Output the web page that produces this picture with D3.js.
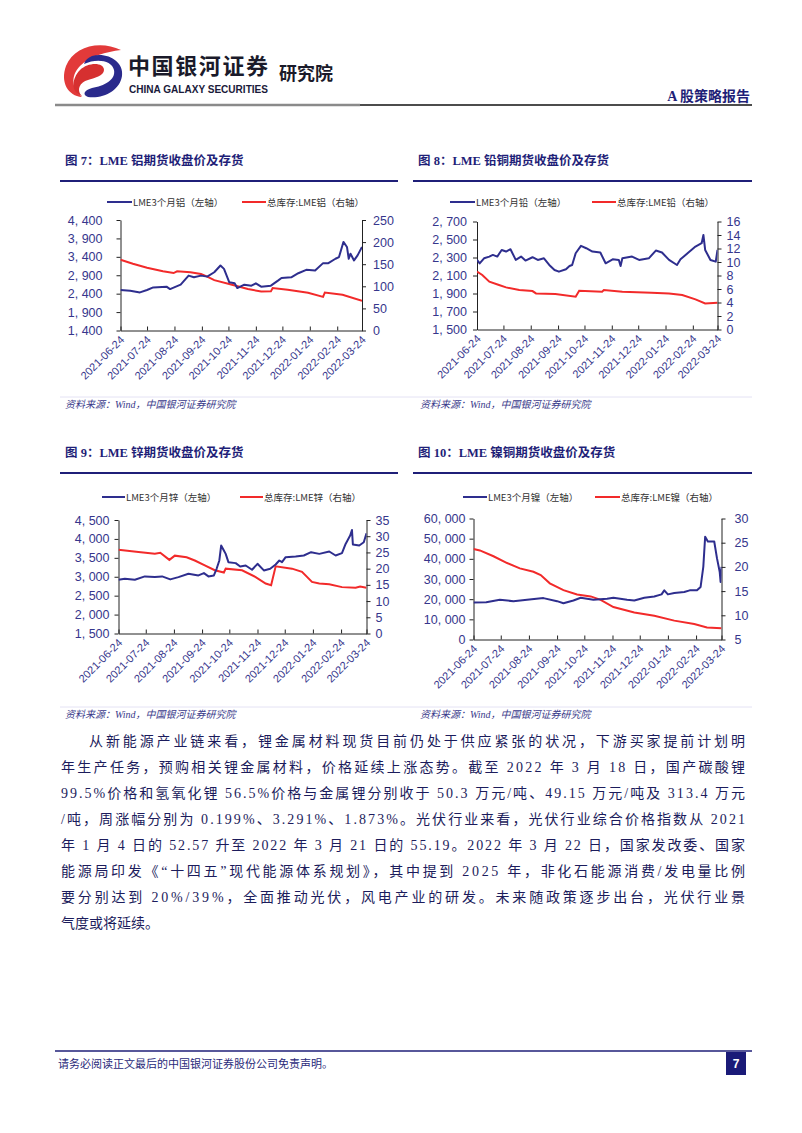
<!DOCTYPE html>
<html><head><meta charset="utf-8">
<script src="https://cdn.jsdelivr.net/npm/d3@7"></script>
<style>
html,body{margin:0;padding:0;background:#fff;}
svg{display:block;}
</style></head>
<body>
<svg id="page" width="802" height="1133"></svg>
<script>
// ---------------- DATA ----------------
const monthTicks = ["2021-06-24","2021-07-24","2021-08-24","2021-09-24","2021-10-24","2021-11-24","2021-12-24","2022-01-24","2022-02-24","2022-03-24"];

const alPrice = [["2021-06-24",2498],["2021-07-05",2480],["2021-07-16",2434],["2021-07-24",2500],["2021-07-31",2570],["2021-08-15",2590],["2021-08-19",2525],["2021-08-31",2644],["2021-09-09",2890],["2021-09-15",2845],["2021-09-23",2890],["2021-09-30",2863],["2021-10-08",2982],["2021-10-15",3165],["2021-10-19",3073],["2021-10-25",2708],["2021-10-31",2680],["2021-11-03",2552],["2021-11-11",2644],["2021-11-19",2617],["2021-11-24",2680],["2021-11-30",2590],["2021-12-11",2617],["2021-12-19",2754],["2021-12-23",2827],["2022-01-03",2845],["2022-01-11",2955],["2022-01-20",3046],["2022-01-30",3028],["2022-02-08",3229],["2022-02-14",3229],["2022-02-22",3348],["2022-02-26",3394],["2022-03-03",3805],["2022-03-07",3668],["2022-03-09",3348],["2022-03-11",3485],["2022-03-15",3302],["2022-03-19",3440],["2022-03-24",3668]];
const alStock = [["2021-06-24",160],["2021-07-08",151],["2021-07-24",142],["2021-08-11",134],["2021-08-23",130],["2021-08-27",134],["2021-09-11",132],["2021-09-23",128],["2021-09-30",122],["2021-10-08",114],["2021-10-27",104],["2021-11-15",94],["2021-11-30",88],["2021-12-11",88.5],["2021-12-13",96],["2021-12-30",92],["2022-01-22",85.5],["2022-02-08",76],["2022-02-10",86],["2022-03-02",81],["2022-03-24",67]];

const pbPrice = [["2021-06-24",2273],["2021-06-27",2235],["2021-07-02",2291],["2021-07-08",2310],["2021-07-12",2329],["2021-07-17",2310],["2021-07-22",2384],["2021-07-27",2366],["2021-08-01",2392],["2021-08-07",2273],["2021-08-13",2310],["2021-08-18",2266],["2021-08-26",2303],["2021-09-01",2273],["2021-09-08",2291],["2021-09-14",2217],["2021-09-20",2161],["2021-09-25",2143],["2021-10-03",2170],["2021-10-07",2206],["2021-10-10",2217],["2021-10-14",2347],["2021-10-20",2429],["2021-10-26",2403],["2021-11-02",2366],["2021-11-11",2355],["2021-11-17",2236],["2021-11-25",2280],["2021-12-02",2273],["2021-12-04",2206],["2021-12-06",2291],["2021-12-17",2310],["2021-12-25",2273],["2022-01-05",2291],["2022-01-13",2377],["2022-01-20",2355],["2022-01-28",2273],["2022-02-06",2217],["2022-02-10",2280],["2022-02-19",2355],["2022-02-27",2421],["2022-03-06",2459],["2022-03-08",2551],["2022-03-10",2384],["2022-03-16",2273],["2022-03-22",2254],["2022-03-24",2384]];
const pbStock = [["2021-06-24",8.57],["2021-06-30",8.07],["2021-07-08",7.08],["2021-07-19",6.59],["2021-07-27",6.24],["2021-08-11",5.84],["2021-08-26",5.69],["2021-08-30",5.35],["2021-09-21",5.25],["2021-10-14",4.85],["2021-10-18",5.74],["2021-11-13",5.59],["2021-11-15",5.84],["2021-12-06",5.59],["2022-01-08",5.44],["2022-01-28",5.35],["2022-02-12",5.1],["2022-02-27",4.46],["2022-03-10",3.86],["2022-03-24",3.96]];

const znPrice = [["2021-06-24",2921],["2021-07-01",2947],["2021-07-12",2921],["2021-07-23",3009],["2021-08-03",2991],["2021-08-11",3009],["2021-08-20",2930],["2021-08-29",2991],["2021-09-09",3079],["2021-09-20",3035],["2021-09-26",3097],["2021-10-01",3009],["2021-10-07",3035],["2021-10-10",3211],["2021-10-13",3430],["2021-10-15",3825],["2021-10-18",3693],["2021-10-20",3605],["2021-10-23",3386],["2021-10-31",3360],["2021-11-05",3272],["2021-11-11",3298],["2021-11-18",3184],["2021-11-24",3342],["2021-12-01",3167],["2021-12-08",3211],["2021-12-14",3325],["2021-12-18",3430],["2021-12-21",3386],["2021-12-25",3518],["2022-01-05",3535],["2022-01-14",3562],["2022-01-22",3649],["2022-01-31",3605],["2022-02-11",3667],["2022-02-18",3562],["2022-02-25",3623],["2022-03-01",3868],["2022-03-06",4088],["2022-03-08",4237],["2022-03-09",3851],["2022-03-16",3825],["2022-03-21",3912],["2022-03-24",4149]];
const znStock = [["2021-06-24",25.8],["2021-07-16",25.1],["2021-08-03",24.6],["2021-08-09",24.9],["2021-08-19",22.7],["2021-08-25",24.0],["2021-09-07",23.5],["2021-09-16",22.5],["2021-09-27",21.0],["2021-10-08",19.5],["2021-10-18",18.8],["2021-10-20",20.0],["2021-11-07",19.5],["2021-11-22",17.4],["2021-12-03",15.4],["2021-12-09",14.9],["2021-12-14",20.7],["2022-01-01",20.0],["2022-01-12",19.0],["2022-01-23",15.9],["2022-01-31",15.4],["2022-02-11",15.2],["2022-02-25",14.3],["2022-03-12",14.1],["2022-03-17",14.5],["2022-03-24",14.1]];

const niPrice = [["2021-06-24",18330],["2021-07-08",18500],["2021-07-23",19680],["2021-08-07",19010],["2021-08-22",19680],["2021-09-09",20520],["2021-09-24",19010],["2021-10-01",18000],["2021-10-12",19350],["2021-10-20",20690],["2021-11-03",19680],["2021-11-18",20180],["2021-11-25",20690],["2021-12-10",19680],["2021-12-18",19350],["2021-12-29",20690],["2022-01-09",21360],["2022-01-17",22370],["2022-01-20",24380],["2022-01-24",22370],["2022-01-31",23040],["2022-02-11",23550],["2022-02-17",24380],["2022-02-25",24380],["2022-03-01",26060],["2022-03-04",36140],["2022-03-06",50930],["2022-03-09",48580],["2022-03-16",48580],["2022-03-19",40340],["2022-03-22",33620],["2022-03-23",28500],["2022-03-24",36000]];
const niStock = [["2021-06-24",23.7],["2021-07-01",23.4],["2021-07-16",22.2],["2021-07-31",20.8],["2021-08-14",19.7],["2021-08-29",19.0],["2021-09-06",18.3],["2021-09-16",16.6],["2021-10-01",15.2],["2021-10-16",14.3],["2021-10-31",13.9],["2021-11-11",13.2],["2021-11-25",11.7],["2021-12-18",10.6],["2022-01-09",9.9],["2022-01-31",8.9],["2022-02-22",8.2],["2022-03-08",7.5],["2022-03-24",7.3]];

const alLeftTicks = [1400,1900,2400,2900,3400,3900,4400];
const alRightTicks = [0,50,100,150,200,250];
const pbLeftTicks = [1500,1700,1900,2100,2300,2500,2700];
const pbRightTicks = [0,2,4,6,8,10,12,14,16];
const znLeftTicks = [1500,2000,2500,3000,3500,4000,4500];
const znRightTicks = [0,5,10,15,20,25,30,35];
const niLeftTicks = [0,10000,20000,30000,40000,50000,60000];
const niRightTicks = [5,10,15,20,25,30];

const titles = ["图 7：LME 铝期货收盘价及存货","图 8：LME 铅铜期货收盘价及存货","图 9：LME 锌期货收盘价及存货","图 10：LME 镍铜期货收盘价及存货"];
const legendLeft = ["LME3个月铝（左轴）","LME3个月铅（左轴）","LME3个月锌（左轴）","LME3个月镍（左轴）"];
const legendRight = ["总库存:LME铝（右轴）","总库存:LME铅（右轴）","总库存:LME锌（右轴）","总库存:LME镍（右轴）"];
const sourceText = "资料来源：Wind，中国银河证券研究院";

const bodyLines = [
 "从新能源产业链来看，锂金属材料现货目前仍处于供应紧张的状况，下游买家提前计划明",
 "年生产任务，预购相关锂金属材料，价格延续上涨态势。截至 2022 年 3 月 18 日，国产碳酸锂",
 "99.5%价格和氢氧化锂 56.5%价格与金属锂分别收于 50.3 万元/吨、49.15 万元/吨及 313.4 万元",
 "/吨，周涨幅分别为 0.199%、3.291%、1.873%。光伏行业来看，光伏行业综合价格指数从 2021",
 "年 1 月 4 日的 52.57 升至 2022 年 3 月 21 日的 55.19。2022 年 3 月 22 日，国家发改委、国家",
 "能源局印发《“十四五”现代能源体系规划》，其中提到 2025 年，非化石能源消费/发电量比例",
 "要分别达到 20%/39%，全面推动光伏，风电产业的研发。未来随政策逐步出台，光伏行业景",
 "气度或将延续。"
];

// ---------------- DRAW ----------------
const svg = d3.select("#page");
const NAVY = "#1f1f78";
const BLUE = "#2e2e8e";
const RED = "#f22a2a";
const SERIF = "'Liberation Serif','Noto Sans CJK SC',serif";
const SANS = "'Liberation Sans','Noto Sans CJK SC',sans-serif";
const parse = d3.timeParse("%Y-%m-%d");

// header logo
const logo = svg.append("g");
logo.append("path")
  .attr("d","M121,50 C100,40 74,46 66,66 C60,82 68,96 82,97 C72,90 70,76 80,66 C90,56 106,52 121,50 Z")
  .attr("fill","#e23a3a");
logo.append("path")
  .attr("d","M84,64 C96,58 112,60 114,70 C116,80 104,86 92,88 C84,90 82,95 88,97 C104,99 120,90 122,76 C124,62 108,52 92,56 C88,58 85,60 84,64 Z")
  .attr("fill","#2a2a8c");
logo.append("path")
  .attr("d","M80,70 C88,62 104,62 104,70 C104,76 94,78 88,80 C80,82 76,90 82,96 C70,92 72,78 80,70 Z")
  .attr("fill","#d63030");
svg.append("text").attr("x",128).attr("y",74).attr("font-family","'Noto Sans CJK SC',sans-serif")
  .attr("font-weight",700).attr("font-size",22).attr("fill","#1a1a2a").attr("textLength",140).text("中国银河证券");
svg.append("text").attr("x",129).attr("y",93).attr("font-family","'Liberation Sans Narrow','Liberation Sans',sans-serif")
  .attr("font-weight",700).attr("font-size",10.5).attr("fill","#1a1a3a").attr("textLength",139).attr("lengthAdjust","spacingAndGlyphs").text("CHINA GALAXY SECURITIES");
svg.append("text").attr("x",279).attr("y",80).attr("font-family","'Noto Sans CJK SC',sans-serif")
  .attr("font-weight",700).attr("font-size",18).attr("fill","#1a1a2a").text("研究院");
svg.append("text").attr("x",750).attr("y",101).attr("text-anchor","end").attr("font-family",SERIF)
  .attr("font-weight",700).attr("font-size",14).attr("fill",NAVY).text("A 股策略报告");
svg.append("line").attr("x1",55).attr("x2",360).attr("y1",105).attr("y2",105).attr("stroke","#8a8a8a").attr("stroke-width",2.5);
svg.append("line").attr("x1",360).attr("x2",752).attr("y1",105).attr("y2",105).attr("stroke","#111").attr("stroke-width",1.5);

// chart configs (layout only; values come from arrays above)
const charts = [
 {title:titles[0], lL:legendLeft[0], lR:legendRight[0], price:alPrice, stock:alStock, lt:alLeftTicks, rt:alRightTicks,
  box:{x:60,w:338,ty:160,ruleY:181,legY:202}, plot:{l:120.5,r:362,t:220,b:330.5}, legX:[107,132,242,266], padL:14, padR:7, src:{x:65,y:408}},
 {title:titles[1], lL:legendLeft[1], lR:legendRight[1], price:pbPrice, stock:pbStock, lt:pbLeftTicks, rt:pbRightTicks,
  box:{x:413,w:339,ty:160,ruleY:181,legY:202}, plot:{l:477,r:717.5,t:221.5,b:329.5}, legX:[450,475,592,616], padL:6, padR:5, src:{x:420,y:408}},
 {title:titles[2], lL:legendLeft[2], lR:legendRight[2], price:znPrice, stock:znStock, lt:znLeftTicks, rt:znRightTicks,
  box:{x:60,w:338,ty:452,ruleY:473,legY:497}, plot:{l:118.5,r:366.5,t:520,b:633.5}, legX:[102,125,240,263], padL:5, padR:5, src:{x:65,y:718}},
 {title:titles[3], lL:legendLeft[3], lR:legendRight[3], price:niPrice, stock:niStock, lt:niLeftTicks, rt:niRightTicks,
  box:{x:413,w:339,ty:452,ruleY:473,legY:497}, plot:{l:473.5,r:721.5,t:518.5,b:639.5}, legX:[463,487,595,620], padL:4, padR:9, src:{x:420,y:718}}
];

const fmtTick = v => d3.format(",")(v).replace(",", ", ");
const fmtDate = d3.timeFormat("%Y-%m-%d");
const xDomain = [parse(monthTicks[0]), parse(monthTicks[monthTicks.length-1])];
const xTickVals = monthTicks.map(parse);

charts.forEach(c => {
  const g = svg.append("g");
  g.append("text").attr("x",c.box.x+5).attr("y",c.box.ty+5).attr("font-family",SERIF)
    .attr("font-weight",700).attr("font-size",12.5).attr("fill",NAVY).text(c.title);
  g.append("line").attr("x1",c.box.x).attr("x2",c.box.x+c.box.w).attr("y1",c.box.ruleY).attr("y2",c.box.ruleY)
    .attr("stroke",NAVY).attr("stroke-width",2);

  // legend
  const ly = c.box.legY;
  g.append("line").attr("x1",c.legX[0]).attr("x2",c.legX[1]).attr("y1",ly).attr("y2",ly).attr("stroke",BLUE).attr("stroke-width",2);
  g.append("text").attr("x",c.legX[1]+1).attr("y",ly+3.5).attr("font-family","'Noto Sans CJK SC',sans-serif")
    .attr("font-size",9.5).attr("fill","#333").text(c.lL);
  g.append("line").attr("x1",c.legX[2]).attr("x2",c.legX[3]).attr("y1",ly).attr("y2",ly).attr("stroke",RED).attr("stroke-width",2);
  g.append("text").attr("x",c.legX[3]+1).attr("y",ly+3.5).attr("font-family","'Noto Sans CJK SC',sans-serif")
    .attr("font-size",9.5).attr("fill","#333").text(c.lR);

  const x = d3.scaleTime().domain(xDomain).range([c.plot.l, c.plot.r]);
  const yL = d3.scaleLinear().domain(d3.extent(c.lt)).range([c.plot.b, c.plot.t]);
  const yR = d3.scaleLinear().domain(d3.extent(c.rt)).range([c.plot.b, c.plot.t]);

  const axL = g.append("g").attr("transform",`translate(${c.plot.l},0)`)
    .call(d3.axisLeft(yL).tickValues(c.lt).tickFormat(fmtTick).tickSizeInner(4).tickSizeOuter(0).tickPadding(c.padL));
  const axR = g.append("g").attr("transform",`translate(${c.plot.r},0)`)
    .call(d3.axisRight(yR).tickValues(c.rt).tickFormat(fmtTick).tickSizeInner(4).tickSizeOuter(0).tickPadding(c.padR));
  const axB = g.append("g").attr("transform",`translate(0,${c.plot.b})`)
    .call(d3.axisBottom(x).tickValues(xTickVals).tickFormat(fmtDate).tickSizeInner(-4).tickSizeOuter(0).tickPadding(6));
  [axL,axR].forEach(a => {
    a.selectAll("text").attr("font-family",SANS).attr("font-size",12.5).attr("fill","#36368c");
    a.selectAll("path,line").attr("stroke","#222");
  });
  axB.selectAll("path,line").attr("stroke","#222");
  axB.selectAll("text").attr("font-family",SANS).attr("font-size",11).attr("fill","#36368c")
    .attr("text-anchor","end").attr("dy","0").attr("y",0)
    .attr("transform","translate(4,10) rotate(-45)");

  const clip = "clip"+c.plot.l;
  g.append("clipPath").attr("id",clip).append("rect")
    .attr("x",c.plot.l).attr("y",c.plot.t-2).attr("width",c.plot.r-c.plot.l).attr("height",c.plot.b-c.plot.t+2);

  const lineL = d3.line().x(d => x(parse(d[0]))).y(d => yL(d[1]));
  const lineR = d3.line().x(d => x(parse(d[0]))).y(d => yR(d[1]));
  g.append("path").datum(c.stock).attr("d",lineR).attr("fill","none").attr("stroke",RED).attr("stroke-width",2).attr("clip-path",`url(#${clip})`);
  g.append("path").datum(c.price).attr("d",lineL).attr("fill","none").attr("stroke",BLUE).attr("stroke-width",2).attr("stroke-linejoin","round").attr("clip-path",`url(#${clip})`);

  svg.append("text").attr("x",c.src.x).attr("y",c.src.y).attr("font-family",SERIF).attr("font-style","italic")
    .attr("font-size",10).attr("fill","#3a3a8a").text(sourceText);
});

// faint rules above source lines
[397,707].forEach(yy => svg.append("line").attr("x1",60).attr("x2",752).attr("y1",yy).attr("y2",yy).attr("stroke","#e4e2f4").attr("stroke-width",1));

// body paragraph
const bodyY = [746,772,798,824,850,876,902,928];
bodyLines.forEach((t,i) => {
  const tx = svg.append("text").attr("x", i===0 ? 89 : 61).attr("y", bodyY[i])
    .attr("font-family",SERIF).attr("font-size",14).attr("fill","#1c1c5c").text(t);
  if (i < bodyLines.length-1) tx.attr("textLength", i===0 ? 656 : 684).attr("lengthAdjust","spacing");
});

// footer
svg.append("line").attr("x1",55).attr("x2",752).attr("y1",1051).attr("y2",1051).attr("stroke",NAVY).attr("stroke-width",1.5);
svg.append("text").attr("x",58).attr("y",1068).attr("font-family","'Noto Sans CJK SC',sans-serif").attr("font-size",11)
  .attr("fill","#2a2a7a").text("请务必阅读正文最后的中国银河证券股份公司免责声明。");
svg.append("rect").attr("x",726).attr("y",1052).attr("width",20).attr("height",23).attr("fill","#1a1a78");
svg.append("text").attr("x",736).attr("y",1068).attr("text-anchor","middle").attr("font-family",SANS)
  .attr("font-weight",700).attr("font-size",12).attr("fill","#fff").text("7");
</script>
</body></html>
